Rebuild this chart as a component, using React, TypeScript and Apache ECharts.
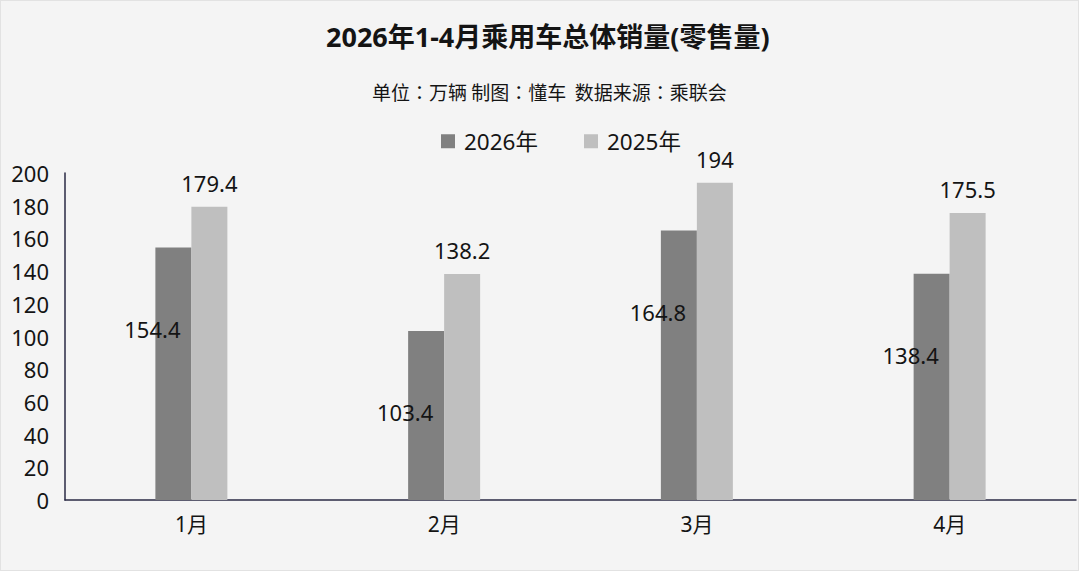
import React, { useEffect, useRef } from "react";
import * as echarts from "echarts";

const categories = ["1月", "2月", "3月", "4月"];
const seriesNames = ["2026年", "2025年"];
const values2026 = [154.4, 103.4, 164.8, 138.4];
const values2025 = [179.4, 138.2, 194, 175.5];
const titleText = "2026年1-4月乘用车总体销量(零售量)";
const subtitleText = "单位：万辆 制图：懂车  数据来源：乘联会";

const FONT = '"Noto Sans", "Noto Sans CJK SC", sans-serif';
const SUBFONT = '"Noto Sans CJK TC", "Noto Sans CJK SC", sans-serif';
const TXT = "#141414";

export default function App() {
  const ref = useRef<HTMLDivElement>(null);
  useEffect(() => {
    const chart = echarts.init(ref.current!, null, { renderer: "svg" });
    chart.setOption({
      animation: false,
      backgroundColor: "transparent",
      textStyle: { fontFamily: FONT },
      title: [
        {
          text: titleText,
          left: 321,
          top: 18,
          padding: 5,
          textStyle: { fontFamily: FONT, fontSize: 27, fontWeight: "bold", color: TXT },
        },
        {
          text: subtitleText,
          left: 367,
          top: 77,
          padding: 5,
          textStyle: { fontFamily: SUBFONT, fontSize: 19, fontWeight: "normal", color: TXT },
        },
      ],
      legend: {
        data: seriesNames,
        left: 436,
        top: 125,
        icon: "rect",
        itemWidth: 14,
        itemHeight: 14,
        itemGap: 46,
        textStyle: { fontFamily: FONT, fontSize: 22.5, color: TXT, padding: [0, 0, 0, 4] },
      },
      grid: { left: 65, right: 4, top: 173, bottom: 81, containLabel: false },
      xAxis: {
        type: "category",
        data: categories,
        axisTick: { show: false },
        axisLine: { lineStyle: { color: "#2a2a44", width: 1.5 } },
        axisLabel: { fontFamily: FONT, fontSize: 21, color: TXT, margin: 13 },
      },
      yAxis: {
        type: "value",
        min: 0,
        max: 200,
        interval: 20,
        splitLine: { show: false },
        axisTick: { show: false },
        axisLine: { show: true, lineStyle: { color: "#2a2a44", width: 1.5 } },
        axisLabel: { fontFamily: FONT, fontSize: 22, color: TXT, margin: 16 },
      },
      series: [
        {
          name: seriesNames[0],
          type: "bar",
          data: values2026,
          barWidth: 36,
          barGap: "0%",
          itemStyle: { color: "#808080" },
          label: {
            show: true,
            position: [-3, 81],
            align: "center",
            verticalAlign: "middle",
            fontFamily: FONT,
            fontSize: 22,
            color: TXT,
          },
        },
        {
          name: seriesNames[1],
          type: "bar",
          data: values2025,
          barWidth: 36,
          barGap: "0%",
          itemStyle: { color: "#bfbfbf" },
          label: {
            show: true,
            position: "top",
            distance: 13,
            fontFamily: FONT,
            fontSize: 22,
            color: TXT,
          },
        },
      ],
    });
    return () => chart.dispose();
  }, []);
  return (
    <div style={{ position: "fixed", left: 0, top: 0, width: 1080, height: 581, background: "#ffffff" }}>
      <div
        style={{
          position: "absolute",
          left: 0,
          top: 0,
          width: 1079,
          height: 571,
          background: "#f4f4f4",
          boxShadow: "inset 0 0 0 1px #e2e2e2",
        }}
      />
      <div ref={ref} style={{ position: "absolute", left: 0, top: 0, width: 1080, height: 581 }} />
    </div>
  );
}
